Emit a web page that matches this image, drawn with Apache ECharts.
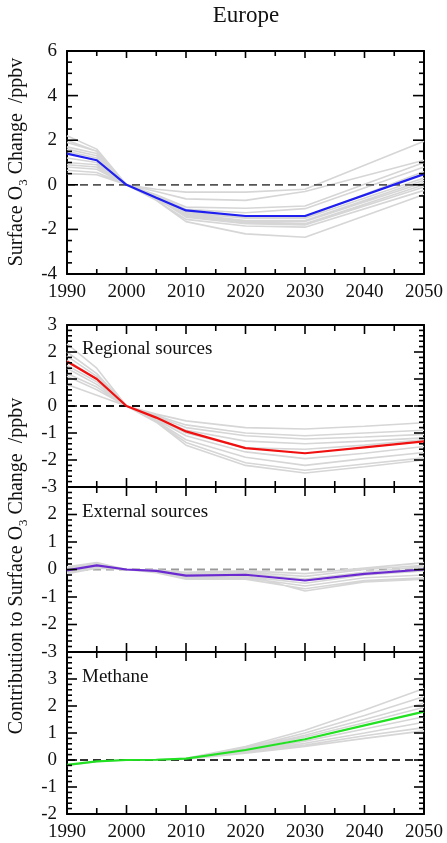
<!DOCTYPE html>
<html>
<head>
<meta charset="utf-8">
<script src="https://cdn.jsdelivr.net/npm/echarts@6/dist/echarts.min.js"></script>
<style>
html,body{margin:0;padding:0;background:#fff;}
#wrap{position:relative;width:447px;height:843px;}
.panel{position:absolute;left:0;top:0;width:447px;height:843px;}
</style>
</head>
<body>
<div id="wrap"></div>
<script>
// ---------- DATA ----------
const X_MIN = 1990, X_MAX = 2050, X_STEP = 10;

// Panel 1: total surface O3 change
const YEARS_TOTAL = [1990, 1995, 2000, 2005, 2010, 2020, 2030, 2050];
const TOTAL_MEAN = [1.4, 1.1, 0, -0.58, -1.15, -1.4, -1.4, 0.48];
const TOTAL_MODELS = [
  [0.5, 0.45, 0, -0.2, -0.33, -0.33, -0.2, 1.95],
  [0.65, 0.55, 0, -0.3, -0.63, -0.7, -0.3, 1.1],
  [0.8, 0.7, 0, -0.45, -1.0, -1.05, -0.95, 1.0],
  [2.2, 1.6, 0, -0.5, -1.1, -1.25, -1.07, 0.8],
  [0.9, 0.8, 0, -0.5, -1.2, -1.45, -1.45, 0.6],
  [1.0, 0.9, 0, -0.55, -1.25, -1.5, -1.5, 0.3],
  [1.9, 1.5, 0, -0.6, -1.3, -1.6, -1.6, 0.2],
  [1.5, 1.2, 0, -0.65, -1.35, -1.65, -1.65, 0.1],
  [1.7, 1.4, 0, -0.6, -1.4, -1.7, -1.75, 0.0],
  [1.2, 1.0, 0, -0.6, -1.45, -1.75, -1.8, -0.1],
  [2.0, 1.5, 0, -0.7, -1.55, -1.85, -1.9, -0.25],
  [1.6, 1.3, 0, -0.7, -1.65, -2.2, -2.35, -0.43]
];

// Panels 2-4 share these years
const YEARS_CONTRIB = [1990, 1995, 2000, 2005, 2010, 2020, 2030, 2040, 2050];

const REGIONAL_MEAN = [1.65, 1.0, 0, -0.43, -0.94, -1.56, -1.75, -1.53, -1.31];
const REGIONAL_MODELS = [
  [0.8, 0.4, 0, -0.3, -0.55, -0.8, -0.85, -0.75, -0.62],
  [1.2, 0.7, 0, -0.35, -0.7, -1.0, -1.1, -1.0, -0.9],
  [1.4, 0.8, 0, -0.4, -0.8, -1.1, -1.22, -1.15, -1.05],
  [2.0, 1.2, 0, -0.45, -0.9, -1.3, -1.4, -1.3, -1.18],
  [1.1, 0.6, 0, -0.45, -1.0, -1.55, -1.6, -1.45, -1.25],
  [1.5, 0.9, 0, -0.5, -1.1, -1.7, -1.95, -1.75, -1.5],
  [2.3, 1.4, 0, -0.55, -1.25, -1.9, -2.2, -1.95, -1.72],
  [1.85, 1.1, 0, -0.6, -1.35, -2.1, -2.38, -2.15, -1.92],
  [1.7, 1.0, 0, -0.6, -1.45, -2.2, -2.48, -2.25, -2.0]
];

const EXTERNAL_MEAN = [-0.03, 0.15, 0, -0.05, -0.22, -0.19, -0.4, -0.16, 0.0];
const EXTERNAL_MODELS = [
  [0.1, 0.25, 0, -0.02, -0.1, -0.05, -0.15, 0.05, 0.25],
  [0.05, 0.2, 0, -0.05, -0.15, -0.1, -0.25, 0.0, 0.15],
  [-0.05, 0.12, 0, -0.05, -0.18, -0.15, -0.35, -0.1, 0.1],
  [-0.05, 0.15, 0, -0.08, -0.25, -0.25, -0.5, -0.2, -0.05],
  [-0.1, 0.1, 0, -0.1, -0.3, -0.3, -0.6, -0.3, -0.2],
  [-0.15, 0.05, 0, -0.12, -0.35, -0.35, -0.7, -0.4, -0.3],
  [0.0, 0.18, 0, -0.06, -0.2, -0.2, -0.78, -0.45, -0.35]
];

const METHANE_MEAN = [-0.18, -0.05, 0, 0.01, 0.05, 0.37, 0.77, 1.28, 1.79];
const METHANE_MODELS = [
  [-0.2, -0.05, 0, 0.01, 0.06, 0.5, 1.1, 1.85, 2.65],
  [-0.2, -0.05, 0, 0.01, 0.06, 0.45, 1.0, 1.65, 2.35],
  [-0.2, -0.05, 0, 0.01, 0.05, 0.42, 0.92, 1.5, 2.1],
  [-0.2, -0.05, 0, 0.01, 0.05, 0.4, 0.85, 1.38, 1.95],
  [-0.2, -0.05, 0, 0.0, 0.04, 0.33, 0.7, 1.15, 1.6],
  [-0.2, -0.05, 0, 0.0, 0.04, 0.3, 0.62, 1.0, 1.4],
  [-0.2, -0.05, 0, 0.0, 0.03, 0.27, 0.55, 0.9, 1.2],
  [-0.2, -0.05, 0, 0.0, 0.03, 0.25, 0.5, 0.8, 1.08]
];

const TITLE = 'Europe';
const PANEL_LABELS = ['Regional sources', 'External sources', 'Methane'];
const Y_TITLES = [
  ['Surface O', '3', ' Change  /ppbv'],
  ['Contribution to Surface O', '3', ' Change  /ppbv']
];

// ---------- LAYOUT / STYLE ----------
const FONT = '"Liberation Serif", "DejaVu Serif", serif';
const PANELS = [
  {top: 51, height: 223, min: -4, max: 6, interval: 2, minor: 4, hideTop: false, xLabels: true,
   xMajor: 7, xMinor: 5, yMajor: 11, yMinor: 5,
   years: YEARS_TOTAL, models: TOTAL_MODELS, mean: TOTAL_MEAN, color: '#1f1ff0', dash: '#555', dashFirst: false},
  {top: 325, height: 162, min: -3, max: 3, interval: 1, minor: 5, hideTop: false, xLabels: false,
   xMajor: 9, xMinor: 6, yMajor: 10, yMinor: 5,
   years: YEARS_CONTRIB, models: REGIONAL_MODELS, mean: REGIONAL_MEAN, color: '#f01010', dash: '#111', dashFirst: false},
  {top: 487, height: 165, min: -3, max: 3, interval: 1, minor: 5, hideTop: true, xLabels: false,
   xMajor: 9, xMinor: 6, yMajor: 10, yMinor: 5,
   years: YEARS_CONTRIB, models: EXTERNAL_MODELS, mean: EXTERNAL_MEAN, color: '#6a2ad0', dash: '#999', dashFirst: true},
  {top: 652, height: 162, min: -2, max: 4, interval: 1, minor: 5, hideTop: true, xLabels: true,
   xMajor: 9, xMinor: 6, yMajor: 10, yMinor: 5,
   years: YEARS_CONTRIB, models: METHANE_MODELS, mean: METHANE_MEAN, color: '#22e022', dash: '#333', dashFirst: false}
];

function pairs(years, vals) { return vals.map((v, i) => [years[i], v]); }
// all model runs of a panel in one line series, separated by empty points
function modelRuns(years, models) {
  const out = [];
  models.forEach(m => { pairs(years, m).forEach(p => out.push(p)); out.push([years[years.length - 1], '-']); });
  return out;
}

// Tick marks along the axis scales: [value, side(0 bottom,1 top,2 left,3 right), length]
function tickList(p) {
  const out = [];
  const nx = Math.round((X_MAX - X_MIN) / X_STEP) * 2;
  for (let k = 0; k <= nx; k++) {
    const v = X_MIN + k * X_STEP / 2;
    const len = k % 2 === 0 ? p.xMajor : p.xMinor;
    out.push([v, 0, len], [v, 1, len]);
  }
  const ny = Math.round((p.max - p.min) / p.interval) * p.minor;
  for (let k = 0; k <= ny; k++) {
    const v = p.min + k * p.interval / p.minor;
    const len = k % p.minor === 0 ? p.yMajor : p.yMinor;
    out.push([v, 2, len], [v, 3, len]);
  }
  return out;
}
function tickRenderer(p) {
  return function (params, api) {
    const v = api.value(0), side = api.value(1), len = api.value(2);
    let a, b;
    if (side === 0) { a = api.coord([v, p.min]); b = [a[0], a[1] - len]; }
    else if (side === 1) { a = api.coord([v, p.max]); b = [a[0], a[1] + len]; }
    else if (side === 2) { a = api.coord([X_MIN, v]); b = [a[0] + len, a[1]]; }
    else { a = api.coord([X_MAX, v]); b = [a[0] - len, a[1]]; }
    return {
      type: 'line',
      shape: {x1: a[0], y1: a[1], x2: b[0], y2: b[1]},
      style: {stroke: '#000', lineWidth: 1.6}
    };
  };
}

const LABEL_Y = [349, 512, 677];
const Y_TITLE_POS = [[17, 162], [17, 566]];
const graphic = [
  {type: 'text', x: 246, y: 16,
   style: {text: TITLE, fontFamily: FONT, fontSize: 23, fill: '#111', align: 'center', verticalAlign: 'middle'}}
].concat(PANEL_LABELS.map((t, i) => ({
  type: 'text', x: 82, y: LABEL_Y[i],
  style: {text: t, fontFamily: FONT, fontSize: 19, fill: '#111', align: 'left', verticalAlign: 'middle'}
}))).concat(Y_TITLES.map((parts, i) => ({
  type: 'text', x: Y_TITLE_POS[i][0], y: Y_TITLE_POS[i][1], rotation: Math.PI / 2,
  style: {
    text: '{a|' + parts[0] + '}{s|' + parts[1] + '}{a|' + parts[2] + '}',
    align: 'center', verticalAlign: 'middle',
    rich: {
      a: {fontFamily: FONT, fontSize: 20, fill: '#111', color: '#111', lineHeight: 26},
      s: {fontFamily: FONT, fontSize: 13, fill: '#111', color: '#111', verticalAlign: 'bottom', lineHeight: 14}
    }
  }
})));

const wrap = document.getElementById('wrap');
PANELS.forEach((p, i) => {
  const div = document.createElement('div');
  div.className = 'panel';
  wrap.appendChild(div);
  const xAxis = ['bottom', 'top'].map(pos => ({
    type: 'value', position: pos, min: X_MIN, max: X_MAX, interval: X_STEP,
    axisLine: {show: true, onZero: false, lineStyle: {color: '#000', width: 2}},
    splitLine: {show: false},
    axisTick: {show: false},
    minorTick: {show: false},
    axisLabel: {show: pos === 'bottom' && p.xLabels, fontFamily: FONT, fontSize: 19, color: '#111',
                margin: 9, formatter: v => String(v)}
  }));
  const yAxis = ['left', 'right'].map(pos => ({
    type: 'value', position: pos, min: p.min, max: p.max, interval: p.interval,
    axisLine: {show: true, onZero: false, lineStyle: {color: '#000', width: 2}},
    splitLine: {show: false},
    axisTick: {show: false},
    minorTick: {show: false},
    axisLabel: {show: pos === 'left', fontFamily: FONT, fontSize: 19, color: '#111', margin: 10,
                formatter: v => (p.hideTop && v === p.max) ? '' : String(v)}
  }));
  const grays = {type: 'line', data: modelRuns(p.years, p.models), symbol: 'none', connectNulls: false,
                 lineStyle: {color: '#d6d6d6', width: 1.6}};
  const dash = {type: 'line', data: [[X_MIN, 0], [X_MAX, 0]], symbol: 'none',
                lineStyle: {color: p.dash, width: 1.8, type: [8, 5]}};
  const mean = {type: 'line', data: pairs(p.years, p.mean), symbol: 'none',
                lineStyle: {color: p.color, width: 2.2}};
  const ticks = {type: 'custom', data: tickList(p), renderItem: tickRenderer(p), clip: false, silent: true, z: 5};
  const series = (p.dashFirst ? [dash, grays, mean] : [grays, dash, mean]).concat([ticks]);
  const opt = {
    animation: false,
    grid: {left: 67, right: 23, top: p.top, height: p.height},
    xAxis, yAxis, series
  };
  if (i === 0) opt.graphic = graphic;
  echarts.init(div).setOption(opt);
});
</script>
</body>
</html>
